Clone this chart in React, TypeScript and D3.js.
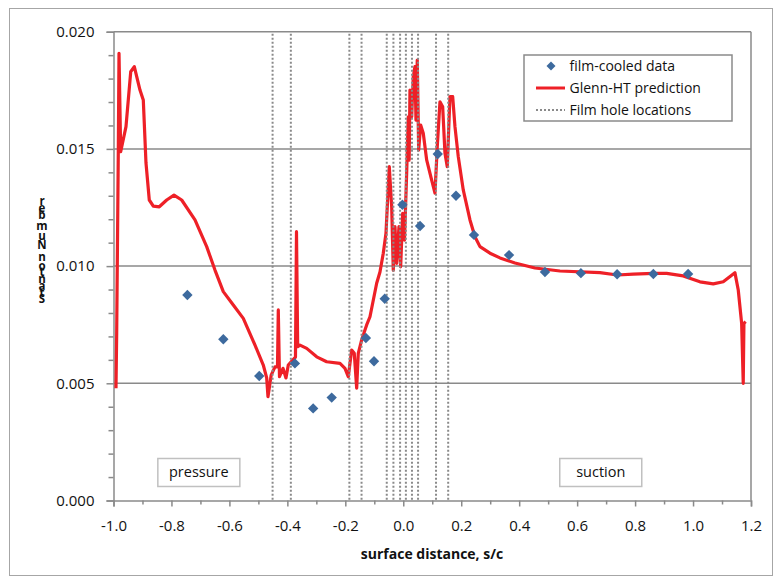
import React, { useEffect, useRef } from 'react';
import * as d3 from 'd3';

// film-cooled measurements (surface distance s/c, Stanton number)
const dataS = [-0.745, -0.621, -0.497, -0.374, -0.311, -0.247, -0.129, -0.101, -0.064, -0.003,
    0.058, 0.119, 0.182, 0.244, 0.365, 0.489, 0.613, 0.738, 0.863, 0.983];
const dataSt = [0.00877, 0.00688, 0.00531, 0.00585, 0.00393, 0.00439, 0.00693, 0.00594, 0.00861, 0.01262,
    0.01171, 0.01478, 0.0130, 0.01133, 0.01047, 0.00975, 0.0097, 0.00965, 0.00966, 0.00966];

// Glenn-HT prediction
const predS = [-0.9914, -0.989, -0.9834, -0.981, -0.9752, -0.9569, -0.9406, -0.9282, -0.9086, -0.8972,
    -0.8879, -0.8765, -0.8627, -0.842, -0.8164, -0.7912, -0.7647, -0.7188, -0.6784, -0.6498,
    -0.6211, -0.5866, -0.5521, -0.5117, -0.4831, -0.4714, -0.4669, -0.4558, -0.4427, -0.4341,
    -0.4313, -0.4272, -0.4151, -0.4048, -0.3968, -0.3816, -0.372, -0.3685, -0.3644, -0.3565,
    -0.3333, -0.2988, -0.2643, -0.2184, -0.2012, -0.1898, -0.1781, -0.1691, -0.1608, -0.1553,
    -0.1436, -0.1322, -0.1263, -0.1149, -0.0918, -0.0804, -0.069, -0.0597, -0.0483, -0.04,
    -0.0345, -0.0286, -0.0228, -0.0148, -0.009, -0.0021, 0.0041, 0.0117, 0.0172, 0.0203,
    0.0231, 0.029, 0.0345, 0.0403, 0.0438, 0.0483, 0.0531, 0.06, 0.069, 0.0807,
    0.098, 0.1094, 0.1173, 0.1266, 0.136, 0.1439, 0.1518, 0.1611, 0.1705, 0.1784,
    0.1898, 0.207, 0.2302, 0.2474, 0.2647, 0.2992, 0.3337, 0.3854, 0.4544, 0.5407,
    0.6787, 0.7384, 0.7937, 0.8627, 0.9089, 0.9662, 1.0238, 1.0697, 1.1042, 1.1445,
    1.156, 1.1677, 1.1732, 1.1756, 1.1815];
const predSt = [0.00479, 0.00715, 0.01495, 0.01908, 0.01488, 0.01595, 0.01829, 0.01851, 0.01751, 0.01709,
    0.0144, 0.01282, 0.01256, 0.01253, 0.01282, 0.01303, 0.01282, 0.01197, 0.01083, 0.00983,
    0.00891, 0.00834, 0.00777, 0.00663, 0.00578, 0.00523, 0.00443, 0.00535, 0.0057, 0.0057,
    0.00813, 0.00528, 0.00564, 0.00523, 0.00578, 0.00599, 0.00612, 0.01147, 0.00656, 0.00663,
    0.00649, 0.00613, 0.00592, 0.00585, 0.00564, 0.00528, 0.00642, 0.00628, 0.00479, 0.00628,
    0.00685, 0.00727, 0.00749, 0.00784, 0.00927, 0.00975, 0.01055, 0.0114, 0.01424, 0.01253,
    0.00983, 0.01168, 0.01012, 0.01168, 0.00997, 0.01225, 0.01111, 0.01396, 0.01637, 0.01452,
    0.01751, 0.01637, 0.01808, 0.01851, 0.01623, 0.01879, 0.01495, 0.01602, 0.01567, 0.01453,
    0.01367, 0.01311, 0.01509, 0.01701, 0.0168, 0.01481, 0.01424, 0.01723, 0.01723, 0.01595,
    0.01467, 0.01325, 0.01197, 0.01125, 0.01083, 0.01055, 0.01035, 0.01013, 0.00992, 0.00979,
    0.00972, 0.00962, 0.00966, 0.00969, 0.00969, 0.00958, 0.00933, 0.00924, 0.00933, 0.00972,
    0.00898, 0.00756, 0.005, 0.00756, 0.00763];

// film hole locations
const holeS = [-0.451, -0.388, -0.186, -0.144, -0.057, -0.034, -0.011, 0.009, 0.03, 0.051, 0.113, 0.155];

const xTicks = [-1.0, -0.8, -0.6, -0.4, -0.2, 0.0, 0.2, 0.4, 0.6, 0.8, 1.0, 1.2];
const xMinor = [-0.9, -0.7, -0.5, -0.3, -0.1, 0.1, 0.3, 0.5, 0.7, 0.9, 1.1];
const yTicks = [0, 0.005, 0.01, 0.015, 0.02];
const yMinor = [0.001, 0.002, 0.003, 0.004, 0.006, 0.007, 0.008, 0.009, 0.011, 0.012, 0.013, 0.014,
    0.016, 0.017, 0.018, 0.019];

const legendItems = ['film-cooled data', 'Glenn-HT prediction', 'Film hole locations'];
const yTitle = 'Stanton Number';

const FONT = "'Open Sans', sans-serif";
const GRAY = '#8a8a8a';
const RED = '#ee2027';
const BLUE = '#3d6a9e';

const App = () => {
    const ref = useRef(null);

    useEffect(() => {
        const svg = d3.select(ref.current);
        svg.selectAll('*').remove();

        const margin = { top: 31.7, right: 31, bottom: 79.5, left: 113.5 };
        const width = 782 - margin.left - margin.right;
        const height = 580 - margin.top - margin.bottom;

        // outer chart frame
        svg.append('rect')
            .attr('x', 9.5).attr('y', 8.5).attr('width', 763).attr('height', 567)
            .attr('fill', 'white').attr('stroke', '#a6a6a6').attr('stroke-width', 1);

        const g = svg.append('g').attr('transform', `translate(${margin.left},${margin.top})`);

        const x = d3.scaleLinear().domain([-1, 1.2]).range([0, width]);
        const y = d3.scaleLinear().domain([0, 0.02]).range([height, 0]);

        // gridlines + right border
        g.selectAll('.grid').data(yTicks.slice(1)).enter().append('line')
            .attr('x1', 0).attr('x2', width)
            .attr('y1', (d) => y(d)).attr('y2', (d) => y(d))
            .attr('stroke', GRAY).attr('stroke-width', 1.5);
        g.append('line')
            .attr('x1', width).attr('x2', width).attr('y1', 0).attr('y2', height)
            .attr('stroke', GRAY).attr('stroke-width', 1.5);

        // y axis
        const yAxis = g.append('g').call(d3.axisLeft(y).tickValues(yTicks)
            .tickFormat((d) => d.toFixed(3)).tickSize(7).tickPadding(12));
        const yMin = g.append('g').call(d3.axisLeft(y).tickValues(yMinor)
            .tickFormat(() => '').tickSize(5));
        // x axis (plain hyphen minus, as in the original)
        const xAxis = g.append('g').attr('transform', `translate(0,${height})`)
            .call(d3.axisBottom(x).tickValues(xTicks).tickFormat((d) => d.toFixed(1))
                .tickSize(6).tickPadding(14));
        const xMin = g.append('g').attr('transform', `translate(0,${height})`)
            .call(d3.axisBottom(x).tickValues(xMinor).tickFormat(() => '').tickSize(4));

        [yAxis, yMin, xAxis, xMin].forEach((a) => {
            a.select('.domain').attr('stroke', GRAY).attr('stroke-width', 1.5);
            a.selectAll('.tick line').attr('stroke', GRAY).attr('stroke-width', 1.5);
            a.selectAll('text').attr('fill', '#111').style('font-family', FONT).style('font-size', '15px');
        });
        yMin.select('.domain').remove();
        xMin.select('.domain').remove();

        // prediction line
        const line = d3.line().x((d) => x(d[0])).y((d) => y(d[1]));
        g.append('path')
            .datum(predS.map((s, i) => [s, predSt[i]]))
            .attr('d', line)
            .attr('fill', 'none').attr('stroke', RED).attr('stroke-width', 3.2)
            .attr('stroke-linejoin', 'round');

        // film hole lines
        g.selectAll('.hole').data(holeS).enter().append('line')
            .attr('x1', (d) => x(d)).attr('x2', (d) => x(d))
            .attr('y1', 2).attr('y2', height)
            .attr('stroke', GRAY).attr('stroke-width', 2).attr('stroke-dasharray', '2,2');

        // data points
        const diamond = (r) => `M0,${-r}L${r},0L0,${r}L${-r},0Z`;
        g.selectAll('.pt').data(dataS).enter().append('path')
            .attr('d', diamond(5.2))
            .attr('transform', (d, i) => `translate(${x(d)},${y(dataSt[i])})`)
            .attr('fill', BLUE);

        // side labels
        const side = (label, bx) => {
            g.append('rect').attr('x', bx).attr('y', height - 42).attr('width', 82).attr('height', 28)
                .attr('fill', 'white').attr('stroke', '#c0c0c0').attr('stroke-width', 1.5);
            g.append('text').attr('x', bx + 41).attr('y', height - 23)
                .attr('text-anchor', 'middle').style('font-family', FONT).style('font-size', '14.5px')
                .attr('fill', '#111').text(label);
        };
        side('pressure', x(-0.847));
        side('suction', x(0.54));

        // legend
        const lg = svg.append('g').attr('transform', 'translate(524,55)');
        lg.append('rect').attr('width', 208).attr('height', 66)
            .attr('fill', 'white').attr('stroke', GRAY).attr('stroke-width', 1.5);
        legendItems.forEach((t, i) => {
            lg.append('text').attr('x', 45.5).attr('y', 16 + i * 22)
                .style('font-family', FONT).style('font-size', '14px').attr('fill', '#111').text(t);
        });
        lg.append('path').attr('d', diamond(4.5)).attr('transform', 'translate(27,11)').attr('fill', BLUE);
        lg.append('line').attr('x1', 12).attr('x2', 41).attr('y1', 33).attr('y2', 33)
            .attr('stroke', RED).attr('stroke-width', 3);
        lg.append('line').attr('x1', 12).attr('x2', 41).attr('y1', 55).attr('y2', 55)
            .attr('stroke', GRAY).attr('stroke-width', 2).attr('stroke-dasharray', '2,2');

        // x title
        svg.append('text').attr('x', 432).attr('y', 559).attr('text-anchor', 'middle')
            .style('font-family', FONT).style('font-size', '14px').attr('font-weight', 'bold')
            .attr('fill', '#111').text('surface distance, s/c');

        // y title: upright glyphs stacked bottom to top, one text element with per-glyph positions
        const adv = { S: 5.3, t: 3.6, a: 5, n: 5.6, o: 5.6, ' ': 2.4, N: 7, u: 5.6, m: 8.6, b: 5.6, e: 5.2, r: 3.8 };
        const chars = yTitle.split('');
        const cum = [];
        let acc = 0;
        chars.forEach((c) => { cum.push(acc + (adv[c] || 5) / 2); acc += adv[c] || 5; });
        const pos = d3.scaleLinear().domain([cum[0], cum[cum.length - 1]]).range([299, 201]);
        svg.append('text')
            .attr('x', chars.map(() => 42).join(' '))
            .attr('y', chars.map((c, i) => (pos(cum[i]) + 4).toFixed(1)).join(' '))
            .attr('text-anchor', 'middle')
            .style('font-family', FONT).style('font-size', '11.5px').attr('font-weight', 'bold')
            .attr('fill', '#111').text(yTitle);
    }, []);

    return (
        <svg ref={ref} width={782} height={580}
            style={{ position: 'absolute', left: 0, top: 0, background: 'white' }} />
    );
};

export default App;
